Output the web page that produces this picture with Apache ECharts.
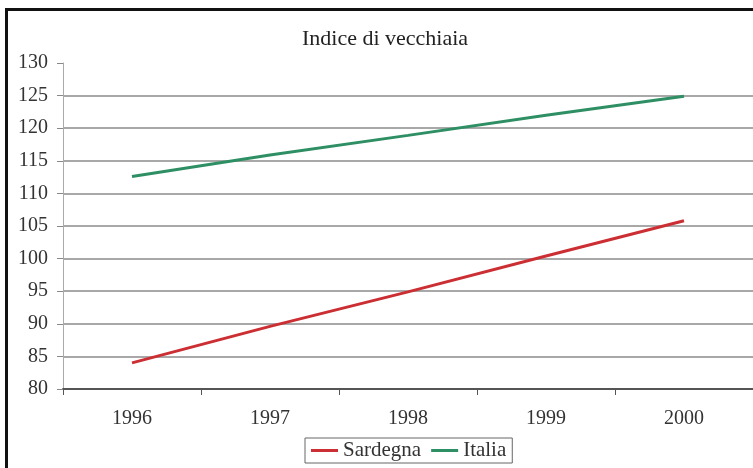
<!DOCTYPE html>
<html>
<head>
<meta charset="utf-8">
<script src="https://cdn.jsdelivr.net/npm/echarts@6/dist/echarts.min.js"></script>
<style>
  html, body { margin: 0; padding: 0; background: #fff; }
  #chart { width: 753px; height: 468px; }
</style>
</head>
<body>
<div id="chart"></div>
<script>
// dati
const anni = ["1996", "1997", "1998", "1999", "2000"];
const sardegna = [84.0, 89.6, 94.9, 100.4, 105.8];
const italia = [112.6, 115.9, 118.9, 122.0, 124.9];

const chart = echarts.init(document.getElementById("chart"));
const serif = "'Liberation Serif', 'DejaVu Serif', serif";

const option = {
  animation: false,
  backgroundColor: "#fff",
  title: {
    text: "Indice di vecchiaia",
    left: 302,
    top: 28,
    padding: 0,
    textStyle: { fontFamily: serif, fontWeight: "normal", fontSize: 22, color: "#222" }
  },
  grid: { left: 63, top: 63, width: 695, height: 326 },
  xAxis: {
    type: "category",
    data: anni,
    boundaryGap: true,
    axisLine: { lineStyle: { color: "#555", width: 2 } },
    axisTick: { show: true, length: 6, lineStyle: { color: "#555" } },
    axisLabel: { fontFamily: serif, fontSize: 20, color: "#333", margin: 20 },
    splitLine: { show: false }
  },
  yAxis: {
    type: "value",
    min: 80,
    max: 130,
    interval: 5,
    axisLine: { show: true, lineStyle: { color: "#aaa", width: 1 } },
    axisTick: { show: true, length: 6, lineStyle: { color: "#888" } },
    axisLabel: { fontFamily: serif, fontSize: 20, color: "#333", margin: 15 },
    splitLine: {
      show: true,
      showMinLine: false,
      showMaxLine: false,
      lineStyle: { color: "#a8a8a8", width: 2 }
    }
  },
  legend: {
    bottom: 5,
    left: 305,
    itemWidth: 27,
    itemHeight: 3,
    itemGap: 10,
    padding: [2, 6, 2, 6],
    borderColor: "#666",
    borderWidth: 1,
    textStyle: { fontFamily: serif, fontSize: 21, color: "#333" },
    data: [
      { name: "Sardegna", icon: "rect" },
      { name: "Italia", icon: "rect" }
    ]
  },
  graphic: [{
    type: "rect",
    left: 4,
    top: 7,
    shape: { width: 770, height: 480 },
    style: { fill: "none", stroke: "#111", lineWidth: 3 },
    silent: true
  }],
  series: [
    {
      name: "Sardegna",
      type: "line",
      data: sardegna,
      showSymbol: false,
      color: "#cc2f33",
      lineStyle: { width: 3, color: "#cc2f33" }
    },
    {
      name: "Italia",
      type: "line",
      data: italia,
      showSymbol: false,
      color: "#2f8f64",
      lineStyle: { width: 3, color: "#2f8f64" }
    }
  ]
};

chart.setOption(option);
</script>
</body>
</html>
